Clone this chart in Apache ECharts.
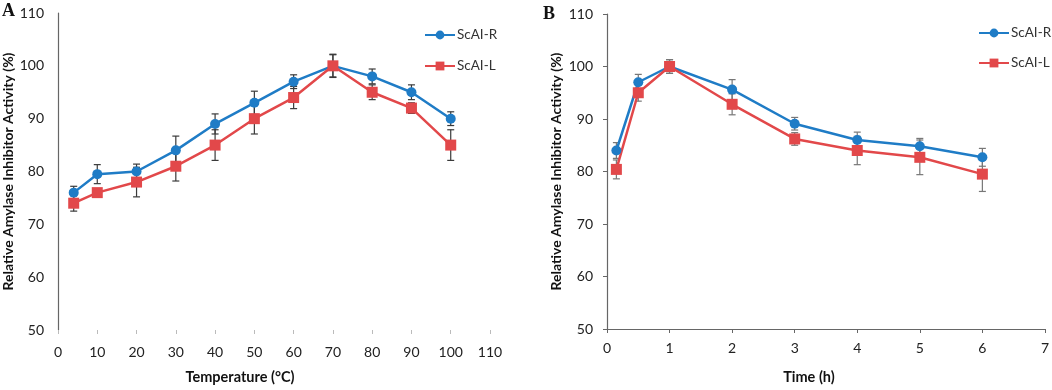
<!DOCTYPE html>
<html>
<head>
<meta charset="utf-8">
<script src="https://cdn.jsdelivr.net/npm/echarts@6/dist/echarts.min.js"></script>
<style>
  html, body { margin: 0; padding: 0; background: #fff; }
  #chart { width: 1052px; height: 390px; }
</style>
</head>
<body>
<div id="chart"></div>
<script>
// A: temperature stability
const tempX = [4, 10, 20, 30, 40, 50, 60, 70, 80, 90, 100];
const tempR = [76, 79.5, 80, 84, 89, 93, 97, 100, 98, 95, 90];
const tempRErr = [1.2, 1.8, 1.4, 2.7, 1.9, 2.2, 1.3, 2.1, 1.4, 1.4, 1.3];
const tempL = [74, 76, 78, 81, 85, 90, 94, 100, 95, 92, 85];
const tempLErr = [1.5, 0.4, 2.8, 2.8, 2.9, 2.9, 2.1, 2.2, 1.4, 1.0, 2.9];

// B: time stability
const timeX = [0.15, 0.5, 1, 2, 3, 4, 5, 6];
const timeR = [84, 97, 100, 95.6, 89.1, 86, 84.8, 82.7];
const timeRErr = [1.5, 1.5, 1.3, 1.9, 1.2, 1.5, 1.5, 1.7];
const timeL = [80.4, 95, 100, 92.8, 86.2, 84, 82.7, 79.5];
const timeLErr = [1.8, 1.6, 1.3, 2.0, 1.2, 2.7, 3.3, 3.3];

const seriesNames = ['ScAI-R', 'ScAI-L'];
const blue = '#1f7cc6';
const red = '#e2484a';
const labelFont = 'Lato, "Open Sans", sans-serif';

const pairs = (xs, ys) => xs.map((x, i) => [x, ys[i]]);
const bars = (xs, ys, es) => xs.map((x, i) => [x, ys[i] - es[i], ys[i] + es[i]]);

function errorBar(color) {
    return function (params, api) {
        const x = api.value(0);
        const top = api.coord([x, api.value(2)]);
        const bot = api.coord([x, api.value(1)]);
        const w = 3.5;
        const style = { stroke: color, lineWidth: 1.2 };
        return {
            type: 'group',
            children: [
                { type: 'line', shape: { x1: top[0], y1: top[1], x2: bot[0], y2: bot[1] }, style },
                { type: 'line', shape: { x1: top[0] - w, y1: top[1], x2: top[0] + w, y2: top[1] }, style },
                { type: 'line', shape: { x1: bot[0] - w, y1: bot[1], x2: bot[0] + w, y2: bot[1] }, style }
            ]
        };
    };
}

function yAxisFor(gridIndex, ticks, gap) {
    return {
        type: 'value', gridIndex: gridIndex,
        min: 50, max: 110, interval: 10,
        name: 'Relative Amylase Inhibitor Activity (%)',
        nameLocation: 'middle', nameGap: gap,
        nameTextStyle: { fontFamily: labelFont, fontWeight: 'bold', fontSize: 14, color: '#111' },
        axisLine: { show: true, lineStyle: { color: '#666', width: 1.2 } },
        axisTick: { show: ticks, length: 4, lineStyle: { color: '#666' } },
        axisLabel: { fontFamily: labelFont, fontSize: 14, color: '#222', margin: 14 },
        splitLine: { show: false }
    };
}

function lineSeries(name, data, xi, color, symbol) {
    return {
        name: name, type: 'line', xAxisIndex: xi, yAxisIndex: xi,
        data: data, color: color, symbol: symbol, symbolSize: symbol === 'rect' ? 11 : 10,
        lineStyle: { width: 2.5, color: color },
        itemStyle: { color: color },
        z: 3
    };
}

function barSeries(data, xi, color) {
    return {
        type: 'custom', xAxisIndex: xi, yAxisIndex: xi,
        data: data, renderItem: errorBar(color),
        encode: { x: 0, y: [1, 2] }, z: 2, silent: true
    };
}

function legendAt(left, top, gap) {
    return {
        orient: 'vertical', left: left, top: top, itemGap: gap,
        itemWidth: 30, itemHeight: 11,
        data: seriesNames.map(n => ({ name: n })),
        textStyle: { fontFamily: labelFont, fontSize: 13.5, color: '#333', padding: [0, 0, 0, -3] }
    };
}

const chart = echarts.init(document.getElementById('chart'));
chart.setOption({
    animation: false,
    backgroundColor: '#fff',
    grid: [
        { left: 58, top: 13, width: 432, height: 320 },
        { left: 607, top: 14, width: 440, height: 319 }
    ],
    legend: [legendAt(419, 23, 17), legendAt(973, 21, 16)],
    xAxis: [
        {
            type: 'value', gridIndex: 0, min: 0, max: 110, interval: 10,
            name: 'Temperature (°C)', nameLocation: 'middle', nameGap: 40,
            nameTextStyle: { fontFamily: labelFont, fontWeight: 'bold', fontSize: 14.5, color: '#111', padding: [0, 68, 0, 0] },
            axisLine: { show: false },
            axisTick: { show: true, length: 4, lineStyle: { color: '#bbb' } },
            axisLabel: { fontFamily: labelFont, fontSize: 14, color: '#222', margin: 15 },
            splitLine: { show: false }
        },
        {
            type: 'value', gridIndex: 1, min: 0, max: 7, interval: 1,
            name: 'Time (h)', nameLocation: 'middle', nameGap: 41,
            nameTextStyle: { fontFamily: labelFont, fontWeight: 'bold', fontSize: 14.5, color: '#111', padding: [0, 34, 0, 0] },
            axisLine: { show: true, lineStyle: { color: '#666', width: 1.2 } },
            axisTick: { show: true, length: 4, lineStyle: { color: '#666' } },
            axisLabel: { fontFamily: labelFont, fontSize: 14, color: '#222', margin: 12 },
            splitLine: { show: false }
        }
    ],
    yAxis: [yAxisFor(0, false, 38), yAxisFor(1, true, 44)],
    graphic: [
        { type: 'text', left: 2, top: 2, style: { text: 'A', font: 'bold 18px "Liberation Serif", serif', fill: '#111' } },
        { type: 'text', left: 543, top: 5, style: { text: 'B', font: 'bold 18px "Liberation Serif", serif', fill: '#111' } }
    ],
    series: [
        barSeries(bars(tempX, tempR, tempRErr), 0, '#3a3a3a'),
        barSeries(bars(tempX, tempL, tempLErr), 0, '#3a3a3a'),
        lineSeries(seriesNames[0], pairs(tempX, tempR), 0, blue, 'circle'),
        lineSeries(seriesNames[1], pairs(tempX, tempL), 0, red, 'rect'),
        barSeries(bars(timeX, timeR, timeRErr), 1, '#777'),
        barSeries(bars(timeX, timeL, timeLErr), 1, '#777'),
        lineSeries(seriesNames[0], pairs(timeX, timeR), 1, blue, 'circle'),
        lineSeries(seriesNames[1], pairs(timeX, timeL), 1, red, 'rect')
    ]
});
</script>
</body>
</html>
